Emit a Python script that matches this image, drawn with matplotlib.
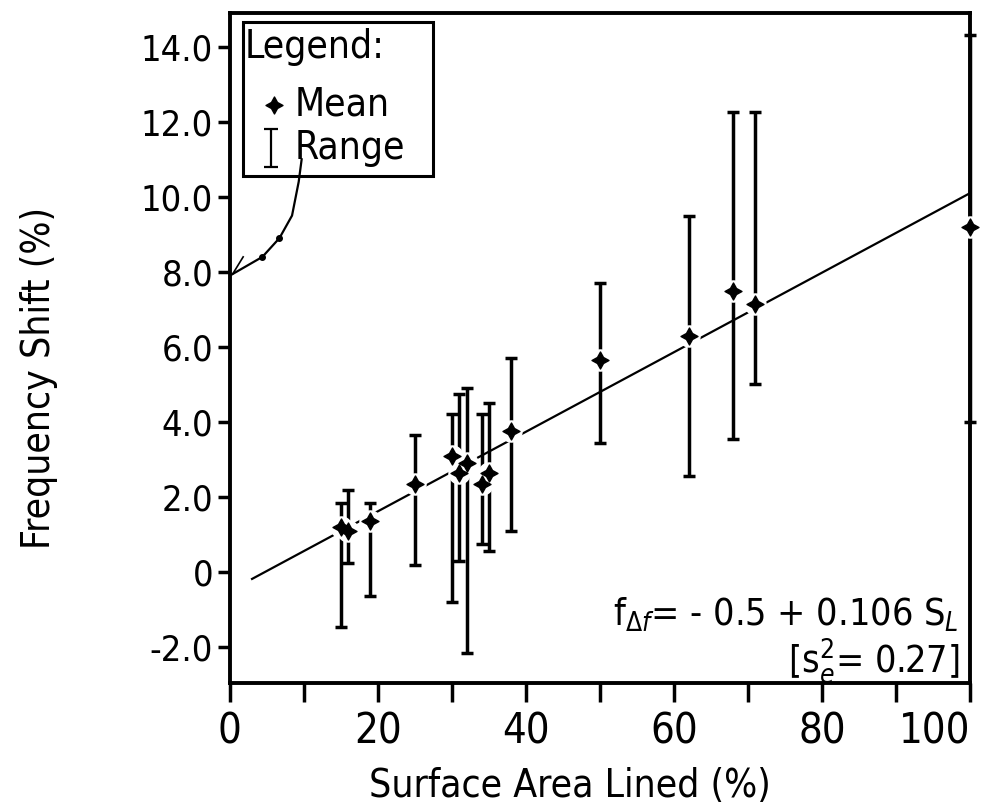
import matplotlib
matplotlib.use("Agg")
import matplotlib.pyplot as plt
from matplotlib.patches import Rectangle

# data
S_lined = [15, 16, 19, 25, 30, 31, 32, 34, 35, 38, 50, 62, 68, 71, 100]
f_mean = [1.2, 1.1, 1.35, 2.35, 3.1, 2.65, 2.9, 2.35, 2.65, 3.75, 5.65, 6.3, 7.5, 7.15, 9.2]
f_high = [1.85, 2.2, 1.85, 3.65, 4.2, 4.75, 4.9, 4.2, 4.5, 5.7, 7.7, 9.5, 12.25, 12.25, 14.3]
f_low = [-1.45, 0.25, -0.65, 0.2, -0.8, 0.3, -2.15, 0.75, 0.55, 1.1, 3.45, 2.55, 3.55, 5.0, 4.0]

fit_a = -0.5
fit_b = 0.106
fit_x = [3, 100]

x_ticks = [0, 10, 20, 30, 40, 50, 60, 70, 80, 90, 100]
x_labels = ["0", "", "20", "", "40", "", "60", "", "80", "", "100"]
y_ticks = [-2, 0, 2, 4, 6, 8, 10, 12, 14]
y_labels = ["-2.0", "0", "2.0", "4.0", "6.0", "8.0", "10.0", "12.0", "14.0"]

# leader line from the legend box to the y axis
lead_x = [9.7, 9.3, 8.4, 6.7, 4.4, 0.0]
lead_y = [11.0, 10.4, 9.5, 8.9, 8.4, 7.9]

plt.rcParams["font.family"] = ["DejaVu Sans"]
plt.rcParams["font.stretch"] = "condensed"

fig = plt.figure(figsize=(9.95, 8.09), dpi=100)
ax = fig.add_axes([0.231, 0.156, 0.744, 0.828])

# range bars
low_err = [m - l for m, l in zip(f_mean, f_low)]
high_err = [h - m for m, h in zip(f_mean, f_high)]
eb = ax.errorbar(S_lined, f_mean, yerr=[low_err, high_err], fmt="none",
                 ecolor="black", elinewidth=2.5, capsize=4, capthick=2.5, zorder=2)
for art in eb.lines[1] + eb.lines[2]:
    art.set_clip_on(False)

# regression line
fit_y = [fit_a + fit_b * x for x in fit_x]
ax.plot(fit_x, fit_y, color="black", lw=1.6, zorder=1)

# white halo then the star-shaped mean marker
ax.scatter(S_lined, f_mean, s=230, color="white", zorder=3, clip_on=False)
ax.scatter(S_lined, f_mean, s=150, marker=(4, 1, 0), color="black", zorder=4,
           clip_on=False)

# legend box
ax.add_patch(Rectangle((1.8, 10.55), 25.6, 4.1, fill=False, lw=2.2,
                       edgecolor="black", zorder=5))
ax.text(2.0, 14.0, "Legend:", fontsize=28, va="center", ha="left", zorder=6)
ax.scatter([5.9], [12.45], s=150, marker=(4, 1, 0), color="black", zorder=6)
ax.text(8.8, 12.45, "Mean", fontsize=28, va="center", ha="left", zorder=6)
ax.errorbar([5.6], [11.3], yerr=[[0.5], [0.5]], fmt="none", ecolor="black",
            elinewidth=1.6, capsize=5, capthick=1.6, zorder=6)
ax.text(8.8, 11.3, "Range", fontsize=28, va="center", ha="left", zorder=6)

ax.plot(lead_x, lead_y, color="black", lw=1.6, zorder=5)
ax.plot([6.7, 4.4], [8.9, 8.4], ls="none", marker="o", ms=4, color="black", zorder=5)
ax.plot([1.8, 0.4], [8.4, 7.95], color="black", lw=1.2, zorder=5)

# equation
ax.text(98.5, -1.15, r"f$_{\Delta f}$= - 0.5 + 0.106 S$_L$", fontsize=27,
        ha="right", va="center")
ax.text(98.5, -2.35, r"[s$_e^2$= 0.27]", fontsize=27, ha="right", va="center")

ax.set_xlim(0, 100)
ax.set_ylim(-2.95, 14.9)
ax.set_xticks(x_ticks)
ax.set_xticklabels(x_labels, fontsize=30)
ax.get_xticklabels()[-1].set_horizontalalignment("right")
ax.get_xticklabels()[-1].set_x(101.5)
ax.set_yticks(y_ticks)
ax.set_yticklabels(y_labels, fontsize=26)
ax.tick_params(axis="x", direction="out", length=14, width=2.5, pad=6)
ax.tick_params(axis="y", direction="out", length=9, width=2.5, pad=3)
for sp in ax.spines.values():
    sp.set_linewidth(2.8)

ax.set_xlabel("Surface Area Lined (%)", fontsize=28)
ax.set_ylabel("Frequency Shift (%)", fontsize=28)
ax.xaxis.set_label_coords(0.46, -0.125)
ax.yaxis.set_label_coords(-0.232, 0.455)

fig.savefig("out.png", dpi=100)
